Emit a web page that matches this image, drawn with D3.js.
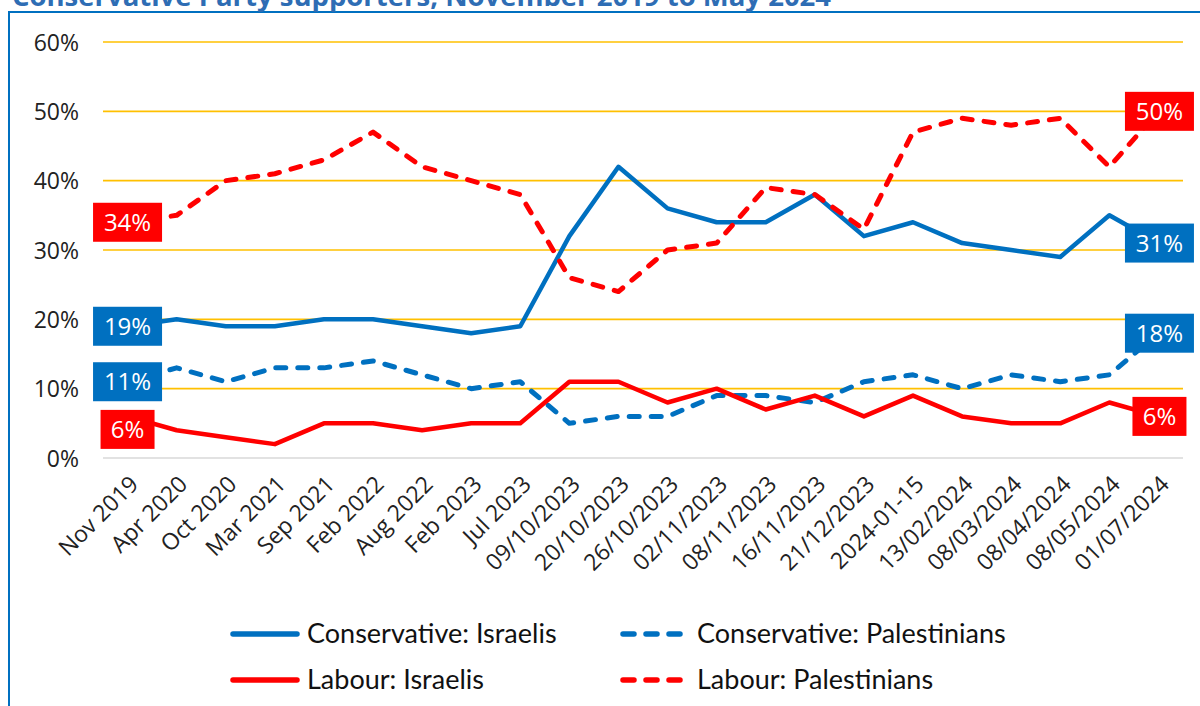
<!DOCTYPE html>
<html><head><meta charset="utf-8">
<script src="https://cdn.jsdelivr.net/npm/d3@7"></script>
<style>
html,body{margin:0;padding:0;background:#fff;}
svg{display:block;}
</style></head>
<body>
<svg id="chart" width="1200" height="706"></svg>
<script>
const categories = ["Nov 2019","Apr 2020","Oct 2020","Mar 2021","Sep 2021","Feb 2022","Aug 2022","Feb 2023","Jul 2023","09/10/2023","20/10/2023","26/10/2023","02/11/2023","08/11/2023","16/11/2023","21/12/2023","2024-01-15","13/02/2024","08/03/2024","08/04/2024","08/05/2024","01/07/2024"];
const conIsraelis     = [19,20,19,19,20,20,19,18,19,32,42,36,34,34,38,32,34,31,30,29,35,31];
const conPalestinians = [11,13,11,13,13,14,12,10,11,5,6,6,9,9,8,11,12,10,12,11,12,18];
const labIsraelis     = [6,4,3,2,5,5,4,5,5,11,11,8,10,7,9,6,9,6,5,5,8,6];
const labPalestinians = [34,35,40,41,43,47,42,40,38,26,24,30,31,39,38,33,47,49,48,49,42,50];
const yTicks = [0,10,20,30,40,50,60];
const titleText = "Conservative Party supporters, November 2019 to May 2024";

const BLUE = "#0070C0", RED = "#FF0000";
const series = [
  {name:"Conservative: Israelis", values:conIsraelis, color:BLUE, dashed:false},
  {name:"Conservative: Palestinians", values:conPalestinians, color:BLUE, dashed:true},
  {name:"Labour: Israelis", values:labIsraelis, color:RED, dashed:false},
  {name:"Labour: Palestinians", values:labPalestinians, color:RED, dashed:true}
];

const svg = d3.select("#chart");
const FONT = "'Open Sans', 'Noto Sans', sans-serif";

// frame
svg.append("rect").attr("x",9).attr("y",12).attr("width",1250).attr("height",760)
  .attr("fill","none").attr("stroke",BLUE).attr("stroke-width",2);
// clipped title
svg.append("text").attr("x",12).attr("y",6).text(titleText)
  .attr("font-family",FONT).attr("font-weight","bold").attr("font-size",27.5)
  .attr("fill","#2E6DB4");
svg.append("rect").attr("x",10).attr("y",13).attr("width",1200).attr("height",700).attr("fill","#fff");

const pLeft = 103, pRight = 1183, pTop = 42, pBottom = 458;
const x = d3.scalePoint().domain(categories).range([pLeft, pRight]).padding(0.5);
const y = d3.scaleLinear().domain([0,60]).range([pBottom, pTop]);

// gridlines
svg.append("g").selectAll("line").data(yTicks).join("line")
  .attr("x1",pLeft).attr("x2",pRight)
  .attr("y1",d=>y(d)).attr("y2",d=>y(d))
  .attr("stroke",d=>d===0?"#D9D9D9":"#FFC000").attr("stroke-width",1.6);

// y axis
const yAxis = d3.axisLeft(y).tickValues(yTicks).tickFormat(d=>d+"%").tickSize(0).tickPadding(0);
const yg = svg.append("g").attr("transform","translate(79,0)").call(yAxis);
yg.select(".domain").remove();
yg.selectAll("text").attr("font-family",FONT).attr("font-size",23).attr("fill","#222").attr("dy","0.35em");

// x axis
const xAxis = d3.axisBottom(x).tickSize(0).tickPadding(0);
const xg = svg.append("g").attr("transform",`translate(0,${pBottom})`).call(xAxis);
xg.select(".domain").remove();
xg.selectAll("text")
  .attr("font-family",FONT).attr("font-size",23).attr("fill","#222")
  .attr("text-anchor","end")
  .attr("dy","0.35em").attr("y",0)
  .attr("transform","translate(6,22) rotate(-45)");

// lines
const line = d3.line().x((d,i)=>x(categories[i])).y(d=>y(d));
const lg = svg.append("g");
series.forEach(s=>{
  lg.append("path").datum(s.values).attr("d",line)
    .attr("fill","none").attr("stroke",s.color)
    .attr("stroke-width",s.dashed?5:4.5)
    .attr("stroke-linejoin","round")
    .attr("stroke-linecap",s.dashed?"round":"butt")
    .attr("stroke-dasharray",s.dashed?"10,12":null);
});

// end labels
const labelShift = {"Labour: Israelis":{first:13,last:0}};
series.forEach(s=>{
  [0, categories.length-1].forEach(idx=>{
    const v = s.values[idx];
    const shift = labelShift[s.name] ? (idx===0?labelShift[s.name].first:labelShift[s.name].last) : 0;
    const cx = x(categories[idx]) + (idx===0?0:1);
    const cy = y(v) + shift;
    const txt = v+"%";
    const w = txt.length===2 ? 54 : 69;
    lg.append("rect").attr("x",cx-w/2).attr("y",cy-19.5).attr("width",w).attr("height",39).attr("fill",s.color);
    lg.append("text").attr("x",cx).attr("y",cy).attr("dy","0.36em").attr("text-anchor","middle")
      .attr("font-family",FONT).attr("font-size",24).attr("fill","#fff").text(txt);
  });
});

// legend
const legendItems = [
  {s:series[0], lx:230, ly:634},
  {s:series[1], lx:620, ly:634},
  {s:series[2], lx:230, ly:680},
  {s:series[3], lx:620, ly:680}
];
const leg = svg.append("g");
legendItems.forEach(it=>{
  leg.append("line").attr("x1",it.lx+3).attr("x2",it.lx+(it.s.dashed?60:67)).attr("y1",it.ly).attr("y2",it.ly)
    .attr("stroke",it.s.color).attr("stroke-width",5.5).attr("stroke-linecap","round")
    .attr("stroke-dasharray",it.s.dashed?"11,12":null);
  leg.append("text").attr("x",it.lx+(it.s.dashed?77:77)).attr("y",it.ly).attr("dy","0.35em")
    .attr("font-family","Lato, sans-serif").attr("font-size",27).attr("fill","#111").text(it.s.name);
});
</script>
</body></html>
